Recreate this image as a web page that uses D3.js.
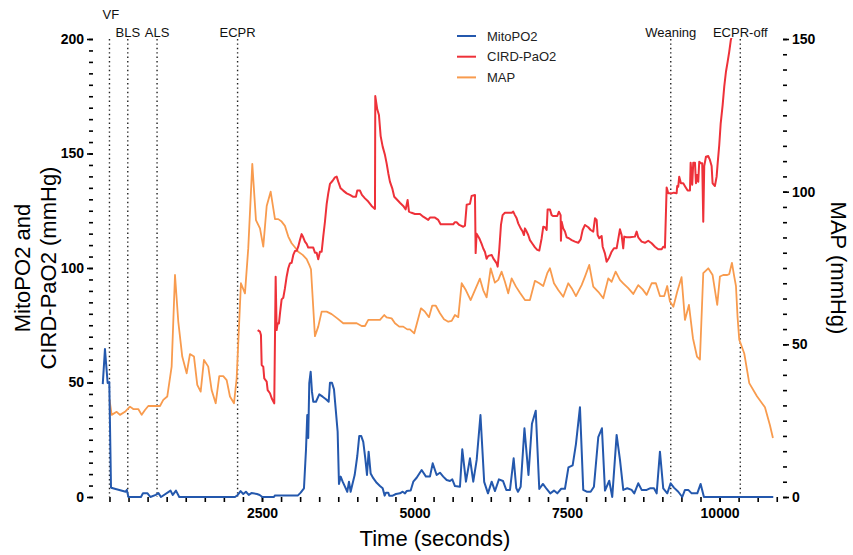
<!DOCTYPE html>
<html>
<head>
<meta charset="utf-8">
<script src="https://cdn.jsdelivr.net/npm/d3@7"></script>
<style>
  html, body { margin: 0; padding: 0; background: #fff; }
  svg { display: block; font-family: "Liberation Sans", Arial, sans-serif; }
</style>
</head>
<body>
<svg id="chart" width="853" height="555"></svg>
<script>
// MitoPO2 (mmHg) over time (s)
const mitoTime = [-110,-74,-30,-3,25,41,266,284,311,516,549,624,670,759,803,844,1001,1038,1090,1144,2057,2103,2149,2193,2237,2283,2327,2418,2462,2506,2696,2713,3090,3134,3188,3221,3242,3258,3275,3298,3319,3340,3385,3439,3494,3549,3593,3614,3647,3680,3712,3740,3762,3790,3822,3860,3898,3926,3953,3986,4019,4062,4094,4127,4160,4193,4221,4248,4281,4324,4380,4434,4478,4511,4532,4570,4586,4642,4696,4762,4806,4844,4871,4937,4980,5035,5117,5188,5253,5298,5363,5417,5471,5527,5581,5619,5663,5717,5745,5783,5843,5909,5963,6019,6081,6142,6204,6265,6319,6384,6450,6504,6565,6625,6668,6696,6740,6802,6868,6925,6987,7045,7105,7166,7225,7286,7340,7405,7466,7523,7592,7646,7712,7766,7822,7887,7941,8012,8072,8122,8192,8241,8313,8368,8422,8487,8559,8602,8667,8723,8805,8859,8925,8969,9023,9077,9143,9198,9252,9323,9389,9433,9487,9543,9635,9690,9744,10880];
const mitoValue = [49.3,64.6,49.8,50.2,4.2,3.9,2.3,3.1,0,0,1.6,1.6,0,0.9,1.7,0,2.8,0.9,2.8,0,0,0.9,2.6,1.3,2.3,0.9,1.7,1.3,0.9,0,0,0.7,0.7,1.9,3.8,20.5,35.8,25.8,49.7,54.7,46,41.6,41.6,44.8,43.8,42.7,41.6,49.9,49.9,47,37.2,28.5,5.7,8.9,6.7,4.5,2.3,6.7,2.3,6,9.6,17.9,26.6,26.6,24.1,16.9,9.6,19.8,10.3,8.2,6.2,4.8,3.8,0.6,1.9,1.9,0.6,0.6,1.3,1.6,2.3,1.6,2.6,2.8,6.7,8.4,11.8,8.9,8.9,14.7,9.6,10.6,8.9,7.4,7,7.7,4.8,4.6,4.5,20.8,6.7,16.9,6.7,16.2,35.8,6.6,1.6,6.7,2.6,7.7,7,3.1,3.1,16.9,3.9,2.3,4.5,30,9.6,32,37.7,3.5,5.7,3.5,1.6,2.8,1.6,3.6,3.6,12.9,13.8,23.1,39.2,3.1,2.3,2.3,4.5,26.1,30,2.8,7.1,0,27.1,16.2,3.1,3.8,3.1,1.6,6,3.1,3.1,3.8,3.8,1.6,19.8,3.8,1.6,6,4.1,2.3,0,3.1,3.1,1.6,1.6,5.7,0,0];

// CIRD-PaO2 (mmHg) over time (s)
const pao2Time = [2429,2467,2483,2495,2521,2537,2577,2593,2631,2659,2701,2724,2740,2757,2778,2795,2822,2849,2876,2904,2931,2958,2986,3013,3040,3068,3094,3122,3150,3176,3204,3232,3258,3340,3368,3396,3422,3450,3478,3504,3532,3560,3586,3614,3658,3696,3724,3750,3789,3832,3888,3942,3996,4040,4061,4106,4138,4188,4242,4297,4352,4357,4389,4417,4445,4478,4516,4543,4570,4597,4635,4668,4707,4761,4815,4855,4887,4909,4953,5007,5089,5143,5225,5253,5335,5389,5428,5499,5635,5663,5690,5733,5799,5827,5855,5909,5936,5991,6002,6018,6061,6100,6127,6155,6182,6209,6265,6291,6347,6363,6389,6417,6444,6482,6592,6618,6646,6674,6700,6740,6772,6794,6810,6838,6864,6892,6936,6974,7012,7045,7084,7110,7138,7166,7182,7220,7248,7274,7340,7367,7395,7400,7412,7438,7466,7494,7531,7576,7630,7684,7723,7756,7794,7848,7887,7930,7958,7985,8002,8028,8067,8084,8121,8149,8192,8231,8269,8313,8367,8395,8421,8438,8477,8531,8613,8641,8667,8723,8777,8831,8887,8941,8995,9051,9077,9105,9133,9159,9215,9252,9296,9306,9323,9339,9367,9405,9438,9477,9515,9526,9552,9569,9597,9613,9634,9651,9667,9695,9716,9733,9749,9777,9815,9842,9870,9886,9924,9952,9969,9995,10018,10051,10077,10105,10133,10159,10185,10210];
const pao2Value = [72.9,72.2,70.7,57.6,56.9,51.8,50.4,46.7,45.3,43.1,40.9,96.2,72.9,75.8,75.8,80.2,86.3,87,91.1,96.2,99.9,102,102.3,105.7,107.4,107.5,109.3,112.2,114.8,113.4,111.5,110.5,108.9,108.9,106.7,106.7,103.8,107.1,107.1,113.7,120.2,127.9,132.6,136.7,138.1,139.6,139.9,137.7,134.8,133.8,132.6,131.9,131.1,131.1,133.8,133.8,131.9,130.4,129,127.1,125.8,175.1,169.3,166.8,157.6,153,149.3,145.7,141.4,137.7,134.8,131.1,130,128.5,127.1,125.6,129.7,124.6,124.1,123.6,123.6,122.4,121,122,122,121,119.1,119.1,119.1,120,120,118.8,118,118.5,127.6,128,131.5,131.9,106.5,115,113,110.5,108.5,107,104,105.3,105.7,104.2,102,100.6,107.9,118.8,123.1,124.1,124.1,124.6,123.1,121.7,119.5,117.3,115.9,114.4,117.3,115.9,114.4,112.2,110.5,109,107.9,107.6,113,118,117.8,116.6,125.6,125.6,123.1,122.7,122.7,124.6,123.1,111.9,120.2,117.3,115.9,113.4,113,112.2,111.5,111,112.5,116.6,118.8,117.8,116.6,115.9,121.7,121,114.4,113,114,109.3,106.4,102.7,104.6,107.1,108.6,108.6,116.9,114.4,108.6,113.7,113.4,113.4,113.7,115.9,113.4,111.5,111,111.9,110.8,109.3,108.2,108.2,109.3,108.9,135.2,132.6,132.6,132.9,132.6,135.8,135.5,139.9,137,137,135.5,133.8,133.8,146,136.4,146,146,137,140.6,137.7,146.4,145.7,145.7,120.2,144.5,148.6,148.9,147.2,144.5,137,135.8,139.9,145.7,153.7,162.9,171.2,179.2,185.7,190.1,194.5,199.6,202];

// MAP (mmHg) over time (s)
const mapTime = [0,36,118,172,254,336,390,472,528,582,636,828,882,947,1019,1074,1128,1193,1265,1319,1385,1439,1495,1549,1619,1675,1741,1800,1865,1921,1975,2041,2085,2155,2221,2275,2341,2401,2467,2521,2577,2642,2713,2767,2822,2876,2931,2986,3040,3094,3167,3232,3275,3303,3368,3422,3478,3560,3642,3734,3832,4052,4134,4188,4242,4434,4504,4543,4625,4680,4750,4815,4881,4925,4996,5106,5171,5237,5291,5347,5417,5483,5553,5609,5663,5717,5773,5843,5920,6072,6127,6182,6248,6318,6373,6428,6482,6536,6592,6663,6728,6810,6892,6974,7045,7110,7176,7220,7286,7356,7438,7520,7576,7646,7739,7794,7864,7930,8012,8094,8176,8231,8297,8367,8421,8503,8585,8667,8739,8805,8887,8957,9023,9093,9142,9187,9243,9306,9377,9433,9498,9564,9630,9678,9733,9815,9886,9962,10006,10060,10126,10159,10203,10241,10269,10295,10323,10405,10487,10613,10744,10826,10875];
const mapValue = [32,26.9,27.9,26.9,27.9,29.6,28.8,28.8,26.9,28.5,29.8,29.8,31.8,32.9,42.7,72.7,57.4,46,40.5,46.8,46,36.7,34.5,44.9,42.7,35,30.7,39.6,39.6,38.3,32.9,30.7,38.9,70,66.7,81.5,109.1,90.7,88,82,95.3,100,91,91,90.2,88.8,85.3,83.1,81.8,80.3,79.3,77.9,76,74.6,52.7,55.8,60.7,60.7,59.9,58.5,56.9,56.9,56,56,58,58,59.6,58.8,58.5,56.9,55.8,55.8,54.9,54.9,53.6,61.8,60.7,58.9,62.7,62.7,60.2,58.2,57.4,57.7,59.6,58.9,70,67.7,64.5,71.5,67.7,65.4,74.9,70.2,71.1,73.8,70.5,66.7,71.6,68.9,66.9,64.5,64.5,70.8,70,69.1,73.3,74.9,70,67.8,65.6,70,68.4,65.8,69.4,72.2,76,68.9,67.2,65.1,71.6,70.5,73.8,71.1,70,68.4,66.5,69.4,68,66.2,70,70,65.8,65.8,69.1,64,62.3,67.2,72,58,62.9,52,46,45,73.3,74.9,72.7,62.9,72.2,72.7,72.7,73,76.7,72.2,69.1,59,51.5,47,37.3,33,29.4,23.5,19.3];

// Clinical event markers
const eventNames = ["VF", "BLS", "ALS", "ECPR", "Weaning", "ECPR-off"];
const eventTimes = [0, 300, 780, 2100, 9200, 10340];
const eventLabelRow = [0, 1, 1, 1, 1, 1];
const eventAnchor = ["start", "middle", "middle", "middle", "middle", "middle"];

// Axis ticks
const leftTicks = [0, 50, 100, 150, 200];
const rightTicks = [0, 50, 100, 150];
const timeTicks = [2500, 5000, 7500, 10000];

const seriesNames = ["MitoPO2", "CIRD-PaO2", "MAP"];
const seriesColors = ["#2458ad", "#ee3139", "#f89b4e"];

const svg = d3.select("#chart");
const plot = { left: 93, right: 783, top: 39, bottom: 497 };

const x = d3.scaleLinear().domain([-270, 11040]).range([plot.left, plot.right]);
const yL = d3.scaleLinear().domain([0, 200]).range([plot.bottom, plot.top]);
const yR = d3.scaleLinear().domain([0, 150]).range([plot.bottom, plot.top]);

svg.append("defs").append("clipPath").attr("id", "plotclip")
  .append("rect").attr("x", plot.left).attr("y", plot.top - 1)
  .attr("width", plot.right - plot.left).attr("height", plot.bottom - plot.top + 3);

// Event marker lines
const ev = svg.append("g").attr("class", "events");
eventTimes.forEach((t, i) => {
  ev.append("line")
    .attr("x1", x(t)).attr("x2", x(t))
    .attr("y1", plot.top).attr("y2", plot.bottom)
    .attr("stroke", "#222").attr("stroke-width", 1.4)
    .attr("stroke-dasharray", "1.4,3");
  ev.append("text")
    .attr("x", eventAnchor[i] === "start" ? x(t) - 7 : x(t))
    .attr("y", eventLabelRow[i] === 0 ? 19 : 37)
    .attr("text-anchor", eventAnchor[i])
    .attr("font-size", 13).attr("fill", "#111")
    .text(eventNames[i]);
});

// Axes
const axisG = svg.append("g").attr("class", "axes");

const minorLeft = d3.range(0, 201, 5);
const minorRight = d3.range(0, 151, 5);
const minorTime = d3.range(0, 11000, 312.5);

const leftAxis = axisG.append("g").attr("transform", `translate(${plot.left},0)`)
  .call(d3.axisLeft(yL).tickValues(minorLeft).tickSize(4).tickFormat(""));
leftAxis.append("g").call(d3.axisLeft(yL).tickValues(leftTicks).tickSize(6).tickPadding(3));

const rightAxis = axisG.append("g").attr("transform", `translate(${plot.right},0)`)
  .call(d3.axisRight(yR).tickValues(minorRight).tickSize(4).tickFormat(""));
rightAxis.append("g").call(d3.axisRight(yR).tickValues(rightTicks).tickSize(6).tickPadding(3));

const bottomAxis = axisG.append("g").attr("transform", `translate(0,${plot.bottom})`)
  .call(d3.axisBottom(x).tickValues(minorTime).tickSize(5).tickFormat(""));
bottomAxis.append("g").call(d3.axisBottom(x).tickValues(timeTicks).tickSize(5).tickPadding(6).tickFormat(d3.format("d")));

axisG.selectAll(".domain").attr("stroke", "#000").attr("stroke-width", 2);
axisG.selectAll(".tick line").attr("stroke", "#000").attr("stroke-width", 1.6);
axisG.selectAll("g g .domain").remove();
axisG.selectAll(".tick text")
  .attr("font-family", "'Liberation Sans', Arial, sans-serif")
  .attr("font-size", 14).attr("font-weight", "bold").attr("fill", "#000");

// Axis titles, centred on their axes
const midY = (plot.top + plot.bottom) / 2;
const midX = (plot.left + plot.right) / 2;
svg.append("text")
  .attr("transform", `translate(30,${midY}) rotate(-90)`)
  .attr("text-anchor", "middle").attr("font-size", 22).attr("fill", "#000")
  .text("MitoPO2 and");
svg.append("text")
  .attr("transform", `translate(56,${midY}) rotate(-90)`)
  .attr("text-anchor", "middle").attr("font-size", 22).attr("fill", "#000")
  .text("CIRD-PaO2 (mmHg)");
svg.append("text")
  .attr("transform", `translate(831,${midY}) rotate(90)`)
  .attr("text-anchor", "middle").attr("font-size", 22).attr("fill", "#000")
  .text("MAP (mmHg)");
svg.append("text")
  .attr("x", midX - 3).attr("y", 546)
  .attr("text-anchor", "middle").attr("font-size", 22).attr("fill", "#000")
  .text("Time (seconds)");

// Data lines
const lines = svg.append("g").attr("clip-path", "url(#plotclip)");
const seriesData = [
  { t: mitoTime, v: mitoValue, y: yL },
  { t: pao2Time, v: pao2Value, y: yL },
  { t: mapTime, v: mapValue, y: yR }
];
// draw MAP first, then PaO2, MitoPO2 on top
[2, 1, 0].forEach(i => {
  const s = seriesData[i];
  const pts = s.t.map((t, k) => [t, s.v[k]]);
  lines.append("path")
    .datum(pts)
    .attr("fill", "none")
    .attr("stroke", seriesColors[i])
    .attr("stroke-width", i === 2 ? 1.8 : 2)
    .attr("stroke-linejoin", "round")
    .attr("d", d3.line().x(d => x(d[0])).y(d => s.y(d[1])));
});

// Legend
const lg = svg.append("g").attr("class", "legend");
seriesNames.forEach((name, i) => {
  const yy = 36 + i * 20.7;
  lg.append("line").attr("x1", 457).attr("x2", 476).attr("y1", yy).attr("y2", yy)
    .attr("stroke", seriesColors[i]).attr("stroke-width", 2);
  lg.append("text").attr("x", 487).attr("y", yy + 4.5)
    .attr("font-size", 13).attr("fill", "#222").text(name);
});
</script>
</body>
</html>
